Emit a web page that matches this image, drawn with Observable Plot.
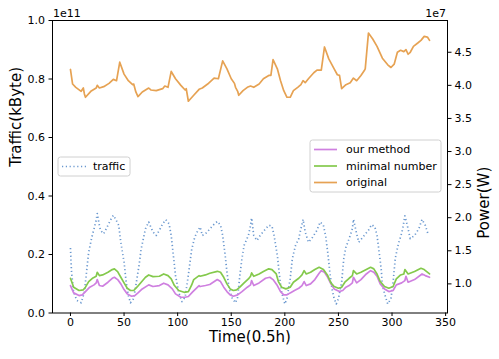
<!DOCTYPE html>
<html><head><meta charset="utf-8">
<script src="https://cdn.jsdelivr.net/npm/d3@7"></script>
<script src="https://cdn.jsdelivr.net/npm/@observablehq/plot@0.6"></script>
<style>body{margin:0;background:#fff;} #chart{width:499px;height:359px;}</style>
</head><body><div id="chart"></div>
<script>
// Time index (0.5h steps)
const trafficT = [0,1,3,6,10,13,15,17,20,22,24,25,27,28,31,35,38,40,42,45,47,50,52,54,56,59,61,64,66,68,70,73,75,77,80,83,86,89,92,94,96,98,101,104,107,110,113,116,119,121,123,126,129,133,137,140,142,144,146,148,151,154,156,158,160,162,166,168,169,171,174,177,181,185,188,190,193,195,197,200,202,205,207,210,213,215,217,219,222,225,230,233,236,238,240,242,244,246,248,250,253,255,257,260,263,264,267,269,273,278,281,284,286,288,290,291,294,296,299,301,303,306,308,310,312,315,317,321,325,328,331,334];
// Traffic, units of 1e11 kByte
const trafficV = [0.222,0.14,0.071,0.043,0.035,0.071,0.14,0.208,0.26,0.288,0.317,0.34,0.30,0.283,0.271,0.30,0.322,0.334,0.322,0.30,0.242,0.174,0.105,0.06,0.035,0.049,0.094,0.163,0.22,0.254,0.288,0.311,0.294,0.277,0.265,0.283,0.305,0.319,0.305,0.265,0.197,0.128,0.071,0.039,0.054,0.13,0.215,0.26,0.283,0.294,0.265,0.271,0.283,0.30,0.313,0.30,0.265,0.208,0.14,0.083,0.049,0.035,0.054,0.128,0.186,0.231,0.265,0.30,0.325,0.265,0.248,0.265,0.283,0.30,0.297,0.265,0.197,0.128,0.071,0.031,0.049,0.117,0.186,0.231,0.254,0.288,0.32,0.277,0.242,0.254,0.283,0.311,0.30,0.265,0.208,0.14,0.083,0.049,0.031,0.049,0.105,0.186,0.225,0.254,0.288,0.32,0.271,0.242,0.26,0.283,0.302,0.294,0.265,0.208,0.146,0.094,0.054,0.031,0.049,0.105,0.186,0.238,0.26,0.288,0.332,0.288,0.254,0.265,0.288,0.32,0.30,0.265];

// Power series, units of 1e7 W
const ourT = [0,3,8,11,14,18,22,24,25,27,30,35,39,41,44,47,50,53,57,60,63,67,73,77,83,87,91,95,98,103,107,110,114,120,121,126,130,137,140,143,146,149,152,156,160,165,168,169,171,176,182,186,189,193,196,199,202,205,209,213,216,218,220,224,228,232,234,237,240,243,246,251,254,257,260,263,264,267,271,276,280,283,286,289,293,297,301,304,309,312,313,315,321,328,331,335];
const ourV = [0.975,0.864,0.823,0.834,0.884,0.95,0.985,1.015,1.065,0.975,0.964,1.025,1.085,1.10,1.065,1.00,0.914,0.849,0.813,0.823,0.864,0.924,0.985,0.96,0.975,1.01,0.985,0.924,0.849,0.798,0.798,0.81,0.88,0.975,0.96,0.975,0.99,1.065,1.035,0.95,0.884,0.834,0.813,0.834,0.884,0.95,0.985,1.05,0.975,1.015,1.085,1.10,1.065,0.975,0.884,0.834,0.834,0.864,0.90,0.934,0.975,1.035,0.975,1.00,1.065,1.16,1.20,1.175,1.10,1.00,0.924,0.884,0.90,0.95,0.975,1.015,1.10,1.015,1.065,1.15,1.20,1.175,1.115,1.00,0.924,0.884,0.90,0.985,1.015,1.05,1.115,1.025,1.065,1.15,1.125,1.10];

const minT = [0,3,8,12,14,17,21,24,25,27,30,35,39,41,44,47,50,53,56,59,62,66,70,73,77,83,87,91,94,97,101,106,110,113,115,120,121,126,130,137,140,143,146,149,152,155,158,162,166,168,169,171,176,180,185,188,192,194,197,201,205,208,213,216,218,220,224,228,232,236,240,243,246,250,253,256,260,263,264,267,271,276,280,283,286,289,293,297,301,304,308,311,312,315,321,327,330,335];
const minV = [1.085,0.95,0.90,0.91,0.95,1.035,1.09,1.115,1.175,1.125,1.135,1.175,1.216,1.227,1.186,1.10,1.015,0.934,0.90,0.90,0.95,1.025,1.10,1.135,1.11,1.115,1.15,1.125,1.075,0.975,0.90,0.873,0.883,0.98,1.065,1.125,1.115,1.135,1.16,1.19,1.175,1.10,1.00,0.924,0.90,0.91,0.95,1.015,1.075,1.115,1.166,1.115,1.15,1.186,1.227,1.216,1.15,1.035,0.95,0.924,0.95,1.025,1.085,1.135,1.20,1.15,1.175,1.216,1.25,1.216,1.125,1.015,0.96,0.934,0.95,1.025,1.085,1.125,1.20,1.15,1.175,1.216,1.25,1.227,1.15,1.035,0.96,0.934,0.96,1.075,1.135,1.15,1.216,1.15,1.186,1.236,1.216,1.15];

const origT = [0,2,5,10,12,13,14,19,24,25,27,31,36,40,43,46,50,54,58,59,61,63,67,73,75,80,86,88,91,94,98,103,107,108,110,115,120,123,128,134,138,142,146,150,153,154,156,157,161,165,168,171,176,180,185,187,189,193,196,199,202,205,208,212,215,217,219,222,227,230,234,237,241,246,249,251,253,257,261,264,267,271,274,275,278,282,286,291,296,299,302,305,308,311,313,315,317,320,324,327,330,333,335];
const origV = [4.24,4.02,3.97,3.91,3.96,3.87,3.82,3.91,3.96,4.00,3.96,3.98,4.03,4.09,4.07,4.35,4.17,4.07,4.01,4.02,3.90,3.83,3.90,3.96,3.93,3.92,3.95,3.99,3.97,4.21,4.10,4.00,3.93,3.95,3.76,3.85,3.94,3.96,4.02,4.11,4.10,4.37,4.25,4.10,4.03,3.97,3.91,3.85,3.92,3.97,3.99,3.97,4.02,4.10,4.15,4.15,4.39,4.25,4.07,3.92,3.82,3.82,3.92,3.97,4.01,4.07,4.04,4.10,4.19,4.23,4.23,4.58,4.40,4.25,4.16,4.15,3.95,4.01,4.04,4.11,4.07,4.15,4.22,4.25,4.79,4.70,4.59,4.41,4.31,4.27,4.32,4.50,4.53,4.51,4.54,4.47,4.50,4.59,4.64,4.68,4.74,4.73,4.68];

const xTicks = [0,50,100,150,200,250,300,350];
const leftTicks = [0.0,0.2,0.4,0.6,0.8,1.0];
const rightTicks = [1.0,1.5,2.0,2.5,3.0,3.5,4.0,4.5];
const seriesNames = ["our method","minimal number","original"];
const colors = {traffic:"#6a98cf", ours:"#cf80e0", minimal:"#84c94c", original:"#e6a253"};

// right axis domain (1e7 W) mapped onto the left [0,1] frame
const R0 = 0.56, R1 = 4.98;
const toLeft = p => (p - R0) / (R1 - R0);
const fromLeft = v => v * (R1 - R0) + R0;

const rowsOf = (T, V, conv) => T.map((t, i) => ({t, v: conv(V[i])}));
const traffic = rowsOf(trafficT, trafficV, d => d);
const ours = rowsOf(ourT, ourV, toLeft);
const minimal = rowsOf(minT, minV, toLeft);
const original = rowsOf(origT, origV, toLeft);

const font = "DejaVu Sans, sans-serif";
const dots = "1.2,2.6";
const svg = Plot.plot({
  width: 499, height: 359,
  marginLeft: 52, marginRight: 52, marginTop: 20, marginBottom: 46.5,
  x: {domain: [-16.75, 351.75]},
  y: {domain: [0, 1]},
  style: {fontFamily: font, fontSize: "11px", color: "#000", background: "#fff"},
  marks: [
    Plot.line(traffic, {x: "t", y: "v", stroke: colors.traffic, strokeWidth: 1.7, strokeDasharray: dots, strokeLinecap: "butt"}),
    Plot.line(ours, {x: "t", y: "v", stroke: colors.ours, strokeWidth: 1.7}),
    Plot.line(minimal, {x: "t", y: "v", stroke: colors.minimal, strokeWidth: 1.7}),
    Plot.line(original, {x: "t", y: "v", stroke: colors.original, strokeWidth: 1.7}),
    Plot.frame({stroke: "#000", strokeWidth: 1}),
    Plot.axisX({ticks: xTicks, tickSize: 3.5, tickPadding: 2, label: null, tickFormat: d => String(d), fontSize: 11}),
    Plot.axisY({ticks: leftTicks, tickSize: 3.5, tickPadding: 4, label: null, tickFormat: d => d.toFixed(1), fontSize: 11}),
    Plot.axisY({anchor: "right", ticks: rightTicks.map(toLeft), tickSize: 3.5, tickPadding: 3.5, label: null, tickFormat: d => fromLeft(d).toFixed(1), fontSize: 11}),
    Plot.text(["Time(0.5h)"], {frameAnchor: "bottom", dy: 29, fontSize: 15}),
    Plot.text(["Traffic(kByte)"], {frameAnchor: "left", dx: -36, rotate: -90, fontSize: 15}),
    Plot.text(["Power(W)"], {frameAnchor: "right", dx: 37, rotate: -90, fontSize: 15})
  ]
});
document.getElementById("chart").appendChild(svg);

const s = d3.select(svg);
// offset labels
const go = s.append("g").attr("font-family", font).attr("font-size", 11);
go.append("text").attr("x", 53).attr("y", 13.5).attr("dy", "0.35em").attr("text-anchor", "start").text("1e11");
go.append("text").attr("x", 446).attr("y", 13.5).attr("dy", "0.35em").attr("text-anchor", "end").text("1e7");

// legends
const g1 = s.append("g").attr("font-family", font).attr("font-size", 11).attr("text-anchor", "start");
g1.append("rect").attr("x", 58).attr("y", 157).attr("width", 72).attr("height", 19).attr("rx", 2.5)
  .attr("fill", "#fff").attr("fill-opacity", 0.8).attr("stroke", "#d0d0d0");
g1.append("line").attr("x1", 62).attr("x2", 86).attr("y1", 166.5).attr("y2", 166.5)
  .attr("stroke", colors.traffic).attr("stroke-width", 1.7).attr("stroke-dasharray", dots);
g1.append("text").attr("x", 93).attr("y", 166.5).attr("dy", "0.35em").text("traffic");

const g2 = s.append("g").attr("font-family", font).attr("font-size", 11).attr("text-anchor", "start");
g2.append("rect").attr("x", 310).attr("y", 140).attr("width", 131).attr("height", 52).attr("rx", 2.5)
  .attr("fill", "#fff").attr("fill-opacity", 0.8).attr("stroke", "#d0d0d0");
const lc = [colors.ours, colors.minimal, colors.original];
const ly = [149.5, 166, 182.5];
seriesNames.forEach((n, i) => {
  g2.append("line").attr("x1", 314).attr("x2", 337).attr("y1", ly[i]).attr("y2", ly[i])
    .attr("stroke", lc[i]).attr("stroke-width", 1.7);
  g2.append("text").attr("x", 346).attr("y", ly[i]).attr("dy", "0.35em").text(n);
});
</script>
</body></html>
